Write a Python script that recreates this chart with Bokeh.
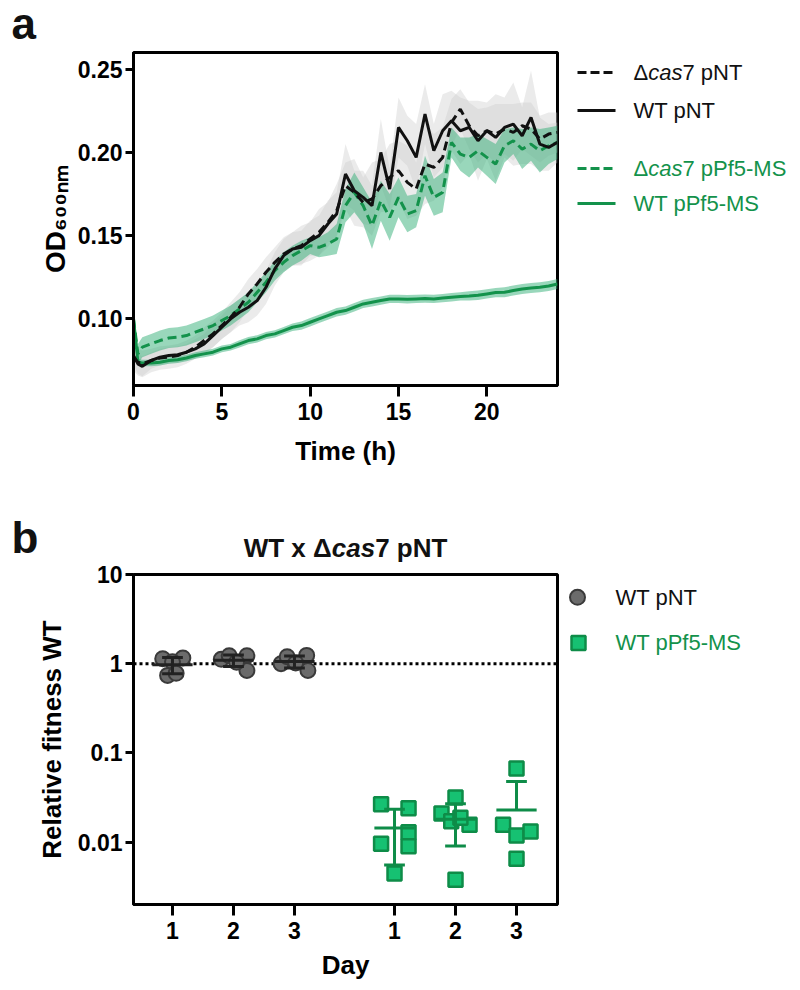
import numpy as np
from bokeh.plotting import figure
from bokeh.layouts import column, row
from bokeh.models import Range1d, FixedTicker, CustomJSTickFormatter, Label, Span
from bokeh.embed import file_html
from bokeh.resources import INLINE

# ---------------- data: panel a (OD600 growth curves) ----------------
time_h = [0, 0.25, 0.5, 1, 1.5, 2, 2.5, 3, 3.5, 4,
          4.5, 5, 5.5, 6, 6.5, 7, 7.5, 8, 8.5, 9,
          9.5, 10, 10.5, 11, 11.5, 12, 12.5, 13, 13.5, 14,
          14.5, 15, 15.5, 16, 16.5, 17, 17.5, 18, 18.5, 19,
          19.5, 20, 20.5, 21, 21.5, 22, 22.5, 23, 23.5, 24]

ko_nt = [0.077, 0.074, 0.073, 0.075, 0.0765, 0.077, 0.078, 0.080, 0.083, 0.087,
         0.091, 0.096, 0.101, 0.107, 0.115, 0.121, 0.128, 0.134, 0.139, 0.142,
         0.144, 0.148, 0.152, 0.158, 0.165, 0.180, 0.176, 0.170, 0.172, 0.180,
         0.185, 0.189, 0.182, 0.178, 0.193, 0.191, 0.197, 0.218, 0.226, 0.216,
         0.210, 0.213, 0.211, 0.214, 0.212, 0.216, 0.214, 0.208, 0.211, 0.212]
ko_nt_sd = [0.008, 0.008, 0.008, 0.007, 0.007, 0.007, 0.007, 0.007, 0.007, 0.008,
            0.008, 0.008, 0.009, 0.009, 0.009, 0.009, 0.009, 0.009, 0.010, 0.010,
            0.012, 0.010, 0.014, 0.012, 0.016, 0.014, 0.020, 0.015, 0.022, 0.016,
            0.020, 0.018, 0.022, 0.016, 0.024, 0.020, 0.018, 0.014, 0.012, 0.014,
            0.016, 0.014, 0.018, 0.015, 0.017, 0.014, 0.016, 0.014, 0.013, 0.012]

wt_nt = [0.078, 0.073, 0.0715, 0.075, 0.077, 0.078, 0.0785, 0.080, 0.082, 0.085,
         0.090, 0.095, 0.100, 0.104, 0.107, 0.111, 0.119, 0.130, 0.138, 0.142,
         0.143, 0.147, 0.150, 0.157, 0.163, 0.187, 0.177, 0.173, 0.168, 0.200,
         0.178, 0.215, 0.207, 0.197, 0.223, 0.201, 0.213, 0.219, 0.213, 0.215,
         0.207, 0.213, 0.209, 0.215, 0.217, 0.210, 0.221, 0.205, 0.203, 0.206]
wt_nt_sd = [0.006, 0.006, 0.006, 0.005, 0.005, 0.005, 0.005, 0.005, 0.006, 0.006,
            0.007, 0.007, 0.008, 0.008, 0.009, 0.009, 0.010, 0.010, 0.010, 0.010,
            0.010, 0.012, 0.012, 0.014, 0.013, 0.018, 0.012, 0.016, 0.012, 0.020,
            0.012, 0.018, 0.015, 0.020, 0.018, 0.016, 0.022, 0.018, 0.020, 0.016,
            0.024, 0.017, 0.026, 0.018, 0.025, 0.017, 0.028, 0.016, 0.014, 0.012]

ko_ms = [0.100, 0.079, 0.083, 0.085, 0.087, 0.0885, 0.089, 0.090, 0.092, 0.094,
         0.096, 0.099, 0.102, 0.106, 0.110, 0.116, 0.122, 0.129, 0.134, 0.138,
         0.141, 0.144, 0.143, 0.145, 0.148, 0.168, 0.176, 0.168, 0.156, 0.171,
         0.161, 0.173, 0.163, 0.165, 0.186, 0.173, 0.176, 0.206, 0.199, 0.197,
         0.201, 0.197, 0.193, 0.204, 0.207, 0.202, 0.205, 0.201, 0.204, 0.206]
ko_ms_sd = [0.004, 0.006, 0.006, 0.006, 0.006, 0.006, 0.006, 0.006, 0.006, 0.006,
            0.006, 0.006, 0.006, 0.006, 0.006, 0.006, 0.006, 0.006, 0.006, 0.006,
            0.006, 0.005, 0.006, 0.007, 0.009, 0.010, 0.012, 0.011, 0.014, 0.012,
            0.014, 0.012, 0.011, 0.010, 0.012, 0.011, 0.012, 0.009, 0.010, 0.012,
            0.010, 0.011, 0.012, 0.010, 0.008, 0.012, 0.010, 0.013, 0.011, 0.010]

wt_ms = [0.100, 0.074, 0.0735, 0.0735, 0.074, 0.075, 0.0755, 0.0765, 0.078, 0.079,
         0.080, 0.082, 0.083, 0.085, 0.087, 0.088, 0.090, 0.091, 0.093, 0.095,
         0.096, 0.098, 0.100, 0.102, 0.104, 0.105, 0.107, 0.109, 0.110, 0.111,
         0.112, 0.112, 0.1118, 0.112, 0.1122, 0.112, 0.1125, 0.113, 0.1135, 0.1138,
         0.1142, 0.115, 0.1158, 0.116, 0.117, 0.118, 0.1185, 0.119, 0.1198, 0.121]
wt_ms_sd = [0.002, 0.002, 0.002, 0.002, 0.002, 0.002, 0.002, 0.002, 0.002, 0.002,
            0.002, 0.002, 0.002, 0.0022, 0.0022, 0.0022, 0.0022, 0.0022, 0.0022, 0.0022,
            0.0025, 0.0025, 0.0025, 0.0025, 0.0025, 0.0025, 0.0025, 0.0025, 0.0025, 0.0025,
            0.0025, 0.0025, 0.0025, 0.0025, 0.0025, 0.0025, 0.0025, 0.0025, 0.0025, 0.0028,
            0.0028, 0.0028, 0.0028, 0.003, 0.003, 0.003, 0.003, 0.003, 0.003, 0.003]

for arr in (ko_nt, ko_nt_sd, wt_nt, wt_nt_sd, ko_ms, ko_ms_sd, wt_ms, wt_ms_sd):
    assert len(arr) == len(time_h)

x_ticks_a = [0, 5, 10, 15, 20]
y_ticks_a = [0.10, 0.15, 0.20, 0.25]

# ---------------- data: panel b (relative fitness) ----------------
day_labels = ["1", "2", "3", "1", "2", "3"]
pos_nt = [1, 2, 3]
pos_ms = [4.64, 5.64, 6.64]

fit_wt_nt = [[1.14, 1.16, 1.05, 0.74, 0.78],
             [1.12, 1.23, 1.23, 0.84, 1.04],
             [1.00, 1.20, 1.24, 0.84, 1.02]]
jit_wt_nt = [[-0.16, 0.17, 0.00, -0.08, 0.06],
             [-0.20, -0.07, 0.22, 0.22, 0.05],
             [-0.22, -0.12, 0.20, 0.22, 0.02]]

fit_wt_ms = [[0.0266, 0.0240, 0.0129, 0.0090, 0.0096, 0.00445],
             [0.0316, 0.0210, 0.0171, 0.0157, 0.0188, 0.0038],
             [0.067, 0.0157, 0.0119, 0.0132, 0.0065]]
jit_wt_ms = [[-0.22, 0.23, 0.23, 0.23, -0.22, 0.0],
             [0.0, -0.23, -0.07, 0.23, 0.08, 0.0],
             [0.0, -0.22, 0.0, 0.23, 0.0]]

y_ticks_b = [0.01, 0.1, 1, 10]

# ---------------- style ----------------
FONT = "Liberation Sans"
BLACK = "#111111"
GREEN = "#13924b"
GREEN_BAND = "#34b077"
GRAY_BAND = "#cdcdcd"
PAGE_W = 796
LEFT_W = 568

REG = {'Δ': 0.668, 'c': 0.5, 'a': 0.556, 's': 0.5, '7': 0.556, ' ': 0.278, 'p': 0.556,
       'N': 0.722, 'T': 0.611, 'P': 0.667, 'f': 0.278, '5': 0.556, '-': 0.333,
       'M': 0.833, 'S': 0.667, 'W': 0.944, 'x': 0.5}
BOLD = {'Δ': 0.722, 'c': 0.556, 'a': 0.556, 's': 0.556, '7': 0.556, ' ': 0.278, 'p': 0.611,
        'N': 0.722, 'T': 0.611, 'W': 0.944, 'x': 0.556}


def text_w(s, size, bold=False):
    tbl = BOLD if bold else REG
    return sum(tbl.get(ch, 0.556) for ch in s) * size


def style_axes(p):
    p.xgrid.visible = False
    p.ygrid.visible = False
    p.outline_line_color = "black"
    p.outline_line_width = 3
    p.background_fill_color = "white"
    p.border_fill_color = "white"
    for ax in (p.xaxis, p.yaxis):
        ax.axis_line_width = 3
        ax.axis_line_color = "black"
        ax.major_tick_line_width = 3
        ax.major_tick_line_color = "black"
        ax.major_tick_in = 0
        ax.minor_tick_line_color = None
        ax.major_label_text_font = FONT
        ax.major_label_text_font_size = "23px"
        ax.major_label_text_font_style = "bold"
        ax.major_label_text_color = "black"
        ax.axis_label_text_font = FONT
        ax.axis_label_text_font_size = "26px"
        ax.axis_label_text_font_style = "bold"
        ax.axis_label_text_color = "black"
    p.xaxis.major_tick_out = 11
    p.xaxis.major_label_standoff = 6
    p.yaxis.major_tick_out = 8
    p.yaxis.major_label_standoff = 3


def blank(width, height, xr, yr, **borders):
    f = figure(width=width, height=height, x_range=Range1d(*xr), y_range=Range1d(*yr),
               output_backend="svg", toolbar_location=None, min_border=0,
               x_axis_location=None, y_axis_location=None, **borders)
    f.xgrid.visible = False
    f.ygrid.visible = False
    f.outline_line_color = None
    f.background_fill_color = "white"
    f.border_fill_color = "white"
    return f


def add_text(f, x, y, s, size, style="normal", color=BLACK, align="left"):
    f.add_layout(Label(x=x, y=y, text=s, text_font=FONT, text_font_size=f"{size}px",
                       text_font_style=style, text_color=color, text_align=align,
                       text_baseline="middle"))


# ================= strip with panel letter a (page y 0-48) =================
stripA = blank(PAGE_W, 48, (0, PAGE_W), (48, 0))
add_text(stripA, 11, 23, "a", 44, "bold")

# ================= panel a (page y 48-488) =================
A_TOP, A_BOT = 4, 103
p1 = figure(width=LEFT_W, height=A_TOP + 333 + A_BOT, x_range=Range1d(0, 24),
            y_range=Range1d(0.06, 0.26), output_backend="svg", toolbar_location=None,
            min_border_left=133, min_border_right=11, min_border_top=A_TOP,
            min_border_bottom=A_BOT)
style_axes(p1)
p1.xaxis.ticker = FixedTicker(ticks=x_ticks_a)
p1.yaxis.ticker = FixedTicker(ticks=y_ticks_a)
p1.yaxis.formatter = CustomJSTickFormatter(code="return tick.toFixed(2)")
p1.xaxis.axis_label = "Time (h)"
p1.xaxis.axis_label_standoff = 13
p1.yaxis.axis_label = "OD\u2086\u2080\u2080\u2099\u2098"
p1.yaxis.axis_label_text_font_size = "28px"
p1.yaxis.axis_label_standoff = 4

t = np.array(time_h)
for m, s in ((wt_nt, wt_nt_sd), (ko_nt, ko_nt_sd)):
    m = np.array(m); s = np.array(s)
    p1.varea(x=t, y1=m - s, y2=m + s, fill_color=GRAY_BAND, fill_alpha=0.4)
for m, s in ((ko_ms, ko_ms_sd), (wt_ms, wt_ms_sd)):
    m = np.array(m); s = np.array(s)
    p1.varea(x=t, y1=m - s, y2=m + s, fill_color=GREEN_BAND, fill_alpha=0.5)

p1.line(t, wt_ms, line_color=GREEN, line_width=3)
p1.line(t, ko_ms, line_color=GREEN, line_width=3, line_dash="9 5")
p1.line(t, ko_nt, line_color=BLACK, line_width=3, line_dash="9 5")
p1.line(t, wt_nt, line_color=BLACK, line_width=3)

# legend a: its frame spans page y 52-385, x 568-796 -> data == page pixels
leg1 = blank(PAGE_W - LEFT_W, A_TOP + 333 + A_BOT, (LEFT_W, PAGE_W), (385, 52),
             min_border_top=A_TOP, min_border_bottom=A_BOT)
legend_a = [
    ([("Δ", "normal"), ("cas", "italic"), ("7 pNT", "normal")], BLACK, "9 4", 72),
    ([("WT pNT", "normal")], BLACK, "solid", 110),
    ([("Δ", "normal"), ("cas", "italic"), ("7 pPf5-MS", "normal")], GREEN, "9 4", 168),
    ([("WT pPf5-MS", "normal")], GREEN, "solid", 203),
]
for segs, col, dash, yy in legend_a:
    leg1.line([577, 615], [yy, yy], line_color=col, line_width=3, line_dash=dash)
    xx = 633
    for s, st in segs:
        add_text(leg1, xx, yy, s, 22, st, col)
        xx += text_w(s, 22)

# ================= strip with panel letter b and title (page y 488-563) =================
STRIPB_BOTTOM = 563
stripB = blank(PAGE_W, STRIPB_BOTTOM - 488, (0, PAGE_W), (STRIPB_BOTTOM, 488))
add_text(stripB, 11, 537, "b", 44, "bold")
title_segs = [("WT x Δ", "bold"), ("cas", "bold italic"), ("7 pNT", "bold")]
tsize = 26
total = sum(text_w(s, tsize, True) for s, _ in title_segs)
xx = 345 - total / 2
for s, st in title_segs:
    add_text(stripB, xx, 547, s, tsize, st)
    xx += text_w(s, tsize, True)

# ================= panel b (page y 563-982) =================
B_TOP, B_BOT = 574 - STRIPB_BOTTOM, 75
XR0, XR1 = 0.361, 7.312
p2 = figure(width=LEFT_W, height=B_TOP + 333 + B_BOT, x_range=Range1d(XR0, XR1),
            y_range=Range1d(0.002, 10), y_axis_type="log", output_backend="svg",
            toolbar_location=None, min_border_left=133, min_border_right=11,
            min_border_top=B_TOP, min_border_bottom=B_BOT)
style_axes(p2)
all_pos = pos_nt + pos_ms
p2.xaxis.ticker = FixedTicker(ticks=all_pos)
p2.xaxis.formatter = CustomJSTickFormatter(
    args=dict(pos=all_pos, labs=day_labels),
    code="const i = pos.findIndex(v => Math.abs(v - tick) < 1e-6); return i >= 0 ? labs[i] : '';")
p2.yaxis.ticker = FixedTicker(ticks=y_ticks_b)
p2.yaxis.formatter = CustomJSTickFormatter(code="return String(tick);")
p2.xaxis.axis_label = "Day"
p2.xaxis.axis_label_standoff = 8
p2.yaxis.axis_label = "Relative fitness WT"
p2.yaxis.axis_label_standoff = 8

p2.add_layout(Span(location=1, dimension="width", line_color="black", line_width=3,
                   line_dash="3 3", level="underlay"))

for k, (vals, jit) in enumerate(zip(fit_wt_nt, jit_wt_nt)):
    xs = [pos_nt[k] + j for j in jit]
    p2.scatter(xs, vals, marker="circle", size=15, fill_color="#6b6b6b",
               line_color="#3a3a3a", line_width=2)
for k, (vals, jit) in enumerate(zip(fit_wt_ms, jit_wt_ms)):
    xs = [pos_ms[k] + j for j in jit]
    p2.scatter(xs, vals, marker="square", size=14, fill_color="#16c172",
               line_color="#0e8c48", line_width=2.5)


def err_bars(p, positions, groups, color):
    x0, y0, x1, y1 = [], [], [], []
    for pos, vals in zip(positions, groups):
        v = np.array(vals)
        m, sd = v.mean(), v.std(ddof=1)
        hi, lo = m + sd, m - sd
        x0 += [pos - 0.33]; x1 += [pos + 0.33]; y0 += [m]; y1 += [m]
        x0 += [pos, pos - 0.17]; x1 += [pos, pos + 0.17]; y0 += [m, hi]; y1 += [hi, hi]
        if lo > 0:
            x0 += [pos, pos - 0.17]; x1 += [pos, pos + 0.17]; y0 += [m, lo]; y1 += [lo, lo]
    p.segment(x0, y0, x1, y1, line_color=color, line_width=3)


err_bars(p2, pos_nt, fit_wt_nt, "#222222")
err_bars(p2, pos_ms, fit_wt_ms, "#0e8c48")

# legend b: frame spans page y 574-907
leg2 = blank(PAGE_W - LEFT_W, B_TOP + 333 + B_BOT, (LEFT_W, PAGE_W), (907, 574),
             min_border_top=B_TOP, min_border_bottom=B_BOT)
leg2.scatter([577], [597], marker="circle", size=15, fill_color="#6b6b6b",
             line_color="#3a3a3a", line_width=2)
leg2.scatter([578], [643], marker="square", size=14, fill_color="#16c172",
             line_color="#0e8c48", line_width=2.5)
add_text(leg2, 615, 597, "WT pNT", 22, color=BLACK)
add_text(leg2, 615, 643, "WT pPf5-MS", 22, color=GREEN)

layout = column(stripA, row(p1, leg1), stripB, row(p2, leg2))
open("out.html", "w").write(file_html(layout, INLINE))
